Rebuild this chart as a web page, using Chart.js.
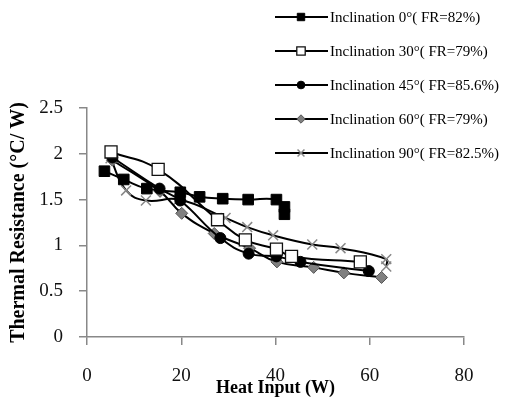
<!DOCTYPE html>
<html>
<head>
<meta charset="utf-8">
<script src="https://cdn.jsdelivr.net/npm/chart.js@4/dist/chart.umd.min.js"></script>
<style>
  html, body { margin: 0; padding: 0; background: #fff; }
  #wrap { width: 531px; height: 399px; }
</style>
</head>
<body>
<div id="wrap"><canvas id="chart" width="531" height="399"></canvas></div>
<script>
(function(){
    "use strict";

    // series values (heat input W, thermal resistance °C/W)
    const heat0 = [3.7, 7.8, 12.7, 19.8, 23.9, 28.8, 34.2, 40.2, 41.9, 41.9];
    const res0  = [1.81, 1.72, 1.62, 1.58, 1.53, 1.51, 1.50, 1.50, 1.42, 1.34];
    const heat30 = [5.1, 15.1, 27.7, 33.6, 40.2, 43.4, 58.0];
    const res30  = [2.02, 1.83, 1.28, 1.06, 0.96, 0.88, 0.82];
    const heat45 = [5.4, 15.4, 19.8, 28.3, 34.3, 40.2, 45.3, 59.8];
    const res45  = [1.96, 1.62, 1.49, 1.08, 0.91, 0.88, 0.82, 0.72];
    const heat60 = [5.4, 15.5, 20.1, 27.0, 34.5, 40.3, 48.1, 54.5, 62.5];
    const res60  = [1.93, 1.59, 1.35, 1.13, 0.97, 0.82, 0.76, 0.70, 0.65];
    const heat90 = [5.0, 8.3, 12.5, 19.5, 29.4, 34.0, 39.5, 47.8, 53.8, 63.5, 63.5];
    const res90  = [1.95, 1.60, 1.49, 1.50, 1.30, 1.20, 1.11, 1.01, 0.97, 0.85, 0.77];

    const seriesNames = [
        'Inclination 0°( FR=82%)',
        'Inclination 30°( FR=79%)',
        'Inclination 45°( FR=85.6%)',
        'Inclination 60°( FR=79%)',
        'Inclination 90°( FR=82.5%)'
    ];
    const xTicks = [0, 20, 40, 60, 80];
    const yTicks = [0, 0.5, 1, 1.5, 2, 2.5];

    const pts = (xs, ys) => xs.map((x, i) => ({ x: x, y: ys[i] }));

    const styles = [
        { pointStyle: 'rect', pointRadius: 7.5, pointBackgroundColor: '#000', pointBorderColor: '#000', pointBorderWidth: 1 },
        { pointStyle: 'rect', pointRadius: 8.5, pointBackgroundColor: '#fff', pointBorderColor: '#111', pointBorderWidth: 1.3 },
        { pointStyle: 'circle', pointRadius: 5.5, pointBackgroundColor: '#000', pointBorderColor: '#000', pointBorderWidth: 1 },
        { pointStyle: 'rectRot', pointRadius: 6, pointBackgroundColor: '#808080', pointBorderColor: '#555', pointBorderWidth: 1 },
        { pointStyle: 'crossRot', pointRadius: 7, pointBackgroundColor: '#888', pointBorderColor: '#888', pointBorderWidth: 1.5 }
    ];
    const data = [pts(heat0, res0), pts(heat30, res30), pts(heat45, res45), pts(heat60, res60), pts(heat90, res90)];

    const datasets = data.map((d, i) => Object.assign({
        label: seriesNames[i],
        data: d,
        showLine: true,
        borderColor: '#000',
        borderWidth: 2,
        tension: 0.45,
        fill: false
    }, styles[i]));

    const serif = '"Liberation Serif", "Times New Roman", serif';

    // legend drawn over the top-right of the chart, like the original
    const overlayLegend = {
        id: 'overlayLegend',
        afterDraw(chart) {
            const ctx = chart.ctx;
            ctx.save();
            seriesNames.forEach((name, i) => {
                const y = 17 + i * 34;
                ctx.strokeStyle = '#000';
                ctx.lineWidth = 2;
                ctx.beginPath(); ctx.moveTo(275, y); ctx.lineTo(328, y); ctx.stroke();
                const s = styles[i];
                ctx.fillStyle = s.pointBackgroundColor;
                ctx.strokeStyle = s.pointBorderColor;
                ctx.lineWidth = s.pointBorderWidth;
                Chart.helpers.drawPoint(ctx, { pointStyle: s.pointStyle, radius: s.pointRadius * 0.7, rotation: 0, borderWidth: s.pointBorderWidth }, 301, y);
                ctx.fillStyle = '#000';
                ctx.font = '15px ' + serif;
                ctx.textAlign = 'left';
                ctx.textBaseline = 'middle';
                ctx.fillText(name, 330, y + 1);
            });
            ctx.restore();
        }
    };

    new Chart(document.getElementById('chart'), {
        type: 'scatter',
        data: { datasets: datasets },
        options: {
            responsive: false,
            animation: false,
            layout: { padding: { top: 108, right: 67, bottom: 0, left: 0 } },
            plugins: { legend: { display: false }, tooltip: { enabled: false } },
            scales: {
                x: {
                    type: 'linear', min: 0, max: 80,
                    afterBuildTicks: s => { s.ticks = xTicks.map(v => ({ value: v })); },
                    afterFit: s => { s.height = 62; },
                    grid: { drawOnChartArea: false, color: '#888', tickLength: 8, lineWidth: 1.5 },
                    border: { color: '#888', width: 1.5 },
                    ticks: { color: '#111', font: { family: serif, size: 19 }, padding: 20, callback: v => String(v) },
                    title: { display: true, text: 'Heat Input (W)', color: '#000', font: { family: serif, size: 18, weight: 'bold' }, padding: { top: 0, bottom: 0 } }
                },
                y: {
                    type: 'linear', min: 0, max: 2.5,
                    afterBuildTicks: s => { s.ticks = yTicks.map(v => ({ value: v })); },
                    afterFit: s => { s.width = 87; },
                    grid: { drawOnChartArea: false, color: '#888', tickLength: 8, lineWidth: 1.5 },
                    border: { color: '#888', width: 1.5 },
                    ticks: { color: '#111', font: { family: serif, size: 19 }, padding: 16, callback: v => String(v) },
                    title: { display: true, text: 'Thermal Resistance (°C/ W)', color: '#000', font: { family: serif, size: 20, weight: 'bold' }, padding: { top: 7, bottom: 0 } }
                }
            }
        },
        plugins: [overlayLegend]
    });
})();
</script>
</body>
</html>
